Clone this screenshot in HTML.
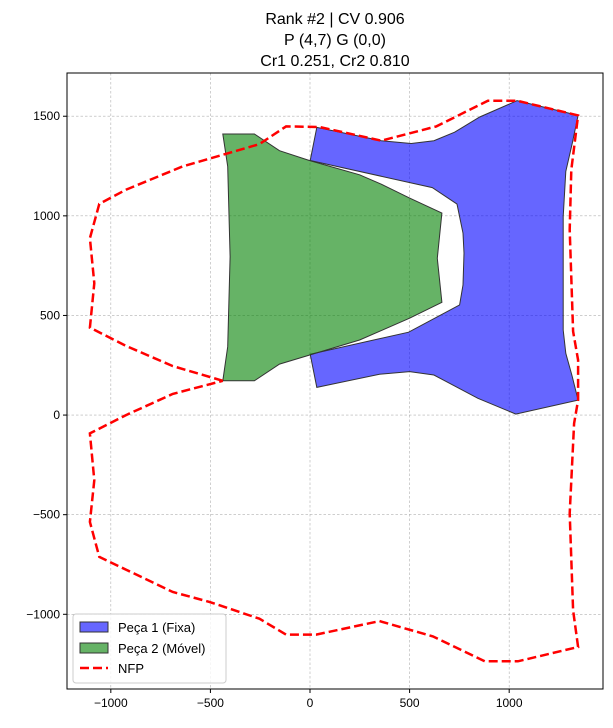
<!DOCTYPE html>
<html><head><meta charset="utf-8"><style>
body{margin:0;background:#fff;}
text{font-family:"Liberation Sans","DejaVu Sans",sans-serif;}
</style></head><body>
<svg id="chart" width="613" height="723" viewBox="0 0 613 723" xmlns="http://www.w3.org/2000/svg">
<rect width="613" height="723" fill="#fff"/>
<g id="title" text-anchor="middle" font-size="16" fill="#000">
<text x="335" y="24">Rank #2 | CV 0.906</text>
<text x="335" y="45">P (4,7) G (0,0)</text>
<text x="335" y="66">Cr1 0.251, Cr2 0.810</text>
</g>
<g id="grid"></g>
<g id="plot"></g>
<rect x="67" y="73" width="536" height="616" fill="none" stroke="#000" stroke-width="1"/>
<g id="ticks"></g>
<g id="legend">
<rect x="73" y="614" width="153" height="69" rx="3" fill="#fff" fill-opacity="0.8" stroke="#ccc"/>
<rect x="80" y="622" width="28" height="10" fill="#0000ff" fill-opacity="0.6" stroke="#333" stroke-width="1"/>
<text x="118" y="632" font-size="13">Peça 1 (Fixa)</text>
<rect x="80" y="643" width="28" height="10" fill="#008000" fill-opacity="0.6" stroke="#333" stroke-width="1"/>
<text x="118" y="653" font-size="13">Peça 2 (Móvel)</text>
<line x1="80" y1="668" x2="108" y2="668" stroke="#ff0000" stroke-width="2.5" stroke-dasharray="9,4"/>
<text x="118" y="673" font-size="13">NFP</text>
</g>
</svg>
<script>
const xTicks=[-1000,-500,0,500,1000,1500];
const yTicks=[-1000,-500,0,500,1000,1500];
const xTickLabels=["−1000","−500","0","500","1000",""];
const yTickLabels=["−1000","−500","0","500","1000","1500"];
const peca1X=[34,358,508,622,726,852,1039,1346,1317,1284,1271,1271,1284,1317,1346,1033,843,622,500,349,34,1,495,751,768,773,768,738,614,1];
const peca1Y=[1444,1377,1363,1377,1420,1496,1578,1504,1365,1223,996,427,310,192,75,5,84,201,218,205,139,305,416,553,653,813,913,1059,1142,1278];
const peca2X=[-438,-279,-153,-3,249,358,500,662,639,662,500,358,249,1,-153,-279,-438,-413,-401,-413];
const peca2Y=[1411,1411,1327,1278,1206,1159,1089,1014,787,566,486,424,377,302,256,172,172,343,795,1248];
const nfpX=[-438,-689,-924,-1105,-1083,-1105,-1058,-924,-639,-254,-120,48,358,634,735,893,1039,1346,1312,1304,1321,1346,1346,1326,1304,1321,1346,1044,877,617,349,31,-120,-254,-505,-689,-1058,-1105,-1083,-1105,-924,-689,-438];
const nfpY=[172,246,347,439,662,888,1060,1131,1248,1360,1449,1446,1377,1449,1499,1578,1578,1504,1231,930,420,276,75,-42,-494,-980,-1164,-1236,-1236,-1111,-1034,-1102,-1102,-1022,-938,-888,-712,-536,-327,-92,0,106,172];
const X0=67,X1=603,Y0=73,Y1=689,xmin=-1220,xmax=1471,ymin=-1375,ymax=1717;
const sx=v=>X0+(v-xmin)/(xmax-xmin)*(X1-X0);
const sy=v=>Y1-(v-ymin)/(ymax-ymin)*(Y1-Y0);
const NS="http://www.w3.org/2000/svg";
function mk(tag,attrs,parent){const e=document.createElementNS(NS,tag);for(const k in attrs)e.setAttribute(k,attrs[k]);parent.appendChild(e);return e;}
const grid=document.getElementById('grid'),ticks=document.getElementById('ticks'),plot=document.getElementById('plot');
xTicks.forEach((t,i)=>{const x=sx(t);if(x<X0||x>X1)return;
 const g=mk('line',{x1:x,x2:x,y1:Y0,y2:Y1,stroke:'#b0b0b0','stroke-width':0.6,'stroke-dasharray':'2.5,2'},grid);
 
 
 const tk=mk('line',{x1:x,x2:x,y1:Y1,y2:Y1+4,stroke:'#000'},ticks);
 
 
 const tx=mk('text',{x:x,y:Y1+18,'text-anchor':'middle','font-size':12},ticks);tx.textContent=xTickLabels[i];
 
 });
yTicks.forEach((t,i)=>{const y=sy(t);
 const g=mk('line',{x1:X0,x2:X1,y1:y,y2:y,stroke:'#b0b0b0','stroke-width':0.6,'stroke-dasharray':'2.5,2'},grid);
 
 
 const tk=mk('line',{x1:X0-4,x2:X0,y1:y,y2:y,stroke:'#000'},ticks);
 
 
 const tx=mk('text',{x:X0-7,y:y+4,'text-anchor':'end','font-size':12},ticks);tx.textContent=yTickLabels[i];
 
 });
const pts=(xs,ys)=>xs.map((v,i)=>sx(v).toFixed(1)+','+sy(ys[i]).toFixed(1)).join(' ');
const p1=mk('polygon',{points:pts(peca1X,peca1Y),fill:'#0000ff','fill-opacity':0.6,stroke:'#333','stroke-width':1},plot);


const p2=mk('polygon',{points:pts(peca2X,peca2Y),fill:'#008000','fill-opacity':0.6,stroke:'#333','stroke-width':1},plot);


const nf=mk('polyline',{points:pts(nfpX,nfpY),fill:'none',stroke:'#ff0000','stroke-width':2.5,'stroke-dasharray':'9,4'},plot);


</script>
</body></html>
